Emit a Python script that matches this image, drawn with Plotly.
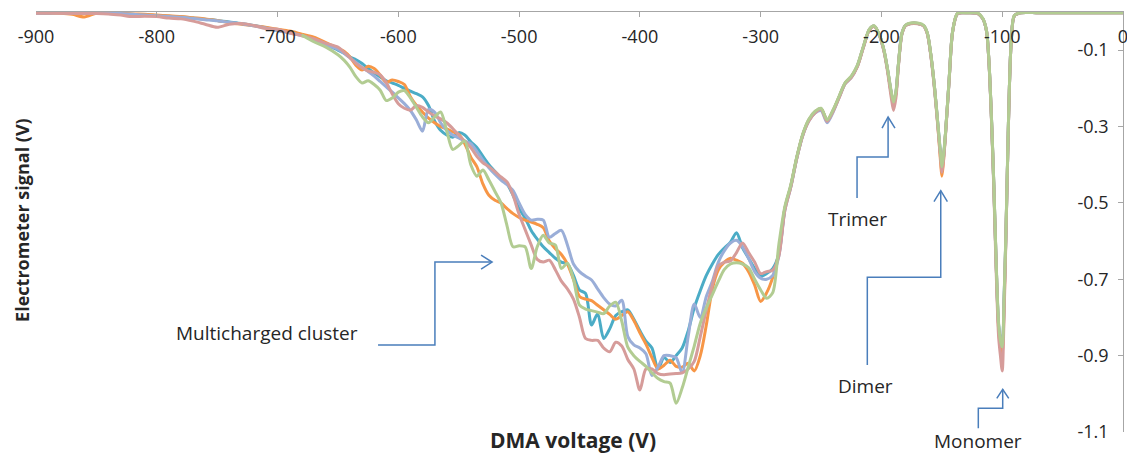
import plotly.graph_objects as go

# ---------------- data ----------------
# x grid: coarse part (-900..-660), fine part (-650..-300), peak part (-295..0)
x_coarse = [-900, -890, -880, -870, -860, -850, -840, -830, -820, -810, -800, -790, -780,
            -770, -760, -750, -740, -730, -720, -710, -700, -690, -680, -670, -660]
x_fine = [-650, -645, -640, -635, -630, -625, -620, -615, -610, -605, -600, -595, -590, -585,
          -580, -575, -570, -565, -560, -555, -550, -545, -540, -535, -530, -525, -520, -515,
          -510, -505, -500, -495, -490, -485, -480, -475, -470, -465, -460, -455, -450, -445,
          -440, -435, -430, -425, -420, -415, -410, -405, -400, -395, -390, -385, -380, -375,
          -370, -365, -360, -355, -350, -345, -340, -335, -330, -325, -320, -315, -310, -305, -300]
x_peak = [-295, -290, -285, -280, -275, -270, -265, -260, -255, -250, -245, -240, -235, -230,
          -225, -220, -215, -210, -206, -202, -198, -195, -192, -190, -188, -186, -183, -180,
          -176, -170, -165, -162, -159, -156, -153, -151, -150, -149, -147, -144, -141, -137,
          -130, -120, -116, -113, -111, -109, -107, -105, -103, -101.5, -100, -98.5, -97, -95.5,
          -94, -92.5, -90, -85, -70, -50, -30, 0]
x_green_start = [-680, -670, -660]

# series 1 (teal)
teal_coarse = [-0.003, -0.003, -0.002, -0.003, -0.003, -0.003, -0.004, -0.005, -0.006, -0.008,
               -0.009, -0.011, -0.013, -0.016, -0.019, -0.022, -0.026, -0.030, -0.035, -0.041,
               -0.048, -0.053, -0.060, -0.070, -0.085]
teal_fine = [-0.100, -0.108, -0.118, -0.125, -0.135, -0.148, -0.160, -0.170, -0.180, -0.186,
             -0.192, -0.200, -0.207, -0.214, -0.222, -0.245, -0.285, -0.310, -0.322, -0.328,
             -0.316, -0.322, -0.340, -0.355, -0.378, -0.400, -0.418, -0.435, -0.450, -0.480,
             -0.515, -0.540, -0.572, -0.595, -0.615, -0.630, -0.645, -0.655, -0.660, -0.690,
             -0.728, -0.737, -0.820, -0.790, -0.855, -0.830, -0.795, -0.785, -0.780, -0.805,
             -0.835, -0.862, -0.880, -0.935, -0.905, -0.918, -0.900, -0.880, -0.835, -0.775,
             -0.730, -0.690, -0.660, -0.635, -0.618, -0.603, -0.578, -0.618, -0.645, -0.672, -0.692]
teal_peak = [-0.685, -0.672, -0.635, -0.515, -0.455, -0.380, -0.320, -0.282, -0.262, -0.253,
             -0.284, -0.258, -0.222, -0.186, -0.170, -0.142, -0.092, -0.046, -0.037, -0.058,
             -0.100, -0.150, -0.210, -0.240, -0.212, -0.140, -0.056, -0.035, -0.030, -0.030,
             -0.036, -0.056, -0.115, -0.200, -0.305, -0.375, -0.400, -0.390, -0.320, -0.180,
             -0.050, -0.004, -0.002, -0.004, -0.018, -0.050, -0.130, -0.270, -0.450, -0.660,
             -0.820, -0.855, -0.862, -0.755, -0.590, -0.380, -0.190, -0.075, -0.010, -0.002,
             -0.002, -0.002, -0.002, -0.002]

# series 2 (orange)
orange_coarse = [-0.002, -0.002, -0.003, -0.006, -0.013, -0.003, -0.002, -0.003, -0.005, -0.006,
                 -0.008, -0.010, -0.012, -0.015, -0.018, -0.022, -0.028, -0.032, -0.036, -0.040,
                 -0.045, -0.050, -0.058, -0.066, -0.080]
orange_fine = [-0.095, -0.103, -0.118, -0.140, -0.152, -0.142, -0.148, -0.165, -0.184, -0.178,
               -0.182, -0.190, -0.222, -0.245, -0.262, -0.278, -0.290, -0.300, -0.306, -0.314,
               -0.320, -0.345, -0.380, -0.405, -0.450, -0.480, -0.493, -0.500, -0.515, -0.528,
               -0.538, -0.545, -0.550, -0.556, -0.565, -0.600, -0.620, -0.635, -0.660, -0.700,
               -0.745, -0.752, -0.756, -0.768, -0.780, -0.792, -0.805, -0.795, -0.785, -0.808,
               -0.840, -0.870, -0.905, -0.935, -0.925, -0.912, -0.928, -0.930, -0.920, -0.940,
               -0.900, -0.820, -0.725, -0.675, -0.655, -0.645, -0.650, -0.658, -0.680, -0.715, -0.758]
orange_peak = [-0.735, -0.695, -0.632, -0.515, -0.455, -0.380, -0.320, -0.282, -0.262, -0.253,
               -0.284, -0.258, -0.222, -0.186, -0.170, -0.142, -0.092, -0.046, -0.037, -0.058,
               -0.100, -0.150, -0.212, -0.245, -0.215, -0.140, -0.056, -0.035, -0.030, -0.030,
               -0.036, -0.056, -0.115, -0.200, -0.310, -0.395, -0.430, -0.405, -0.320, -0.180,
               -0.050, -0.004, -0.002, -0.004, -0.018, -0.050, -0.130, -0.270, -0.450, -0.660,
               -0.830, -0.875, -0.894, -0.775, -0.590, -0.380, -0.190, -0.075, -0.010, -0.002,
               -0.002, -0.002, -0.002, -0.002]

# series 3 (lavender)
lav_coarse = [-0.003, -0.002, -0.002, -0.003, -0.002, -0.003, -0.004, -0.004, -0.006, -0.008,
              -0.010, -0.012, -0.014, -0.017, -0.020, -0.023, -0.027, -0.031, -0.036, -0.042,
              -0.049, -0.055, -0.062, -0.072, -0.086]
lav_fine = [-0.098, -0.108, -0.120, -0.132, -0.145, -0.156, -0.168, -0.182, -0.196, -0.210,
            -0.225, -0.240, -0.258, -0.283, -0.312, -0.255, -0.262, -0.290, -0.310, -0.322,
            -0.330, -0.338, -0.345, -0.365, -0.388, -0.408, -0.425, -0.440, -0.452, -0.468,
            -0.500, -0.530, -0.545, -0.543, -0.545, -0.590, -0.580, -0.572, -0.610, -0.660,
            -0.680, -0.692, -0.702, -0.725, -0.748, -0.765, -0.770, -0.755, -0.850, -0.872,
            -0.880, -0.895, -0.952, -0.930, -0.900, -0.900, -0.905, -0.945, -0.850, -0.765,
            -0.800, -0.745, -0.705, -0.655, -0.625, -0.605, -0.598, -0.615, -0.645, -0.680, -0.697]
lav_peak = [-0.700, -0.690, -0.640, -0.520, -0.458, -0.382, -0.322, -0.285, -0.265, -0.258,
            -0.290, -0.262, -0.224, -0.188, -0.172, -0.142, -0.092, -0.046, -0.037, -0.058,
            -0.100, -0.150, -0.210, -0.240, -0.212, -0.140, -0.056, -0.035, -0.030, -0.030,
            -0.036, -0.056, -0.115, -0.200, -0.305, -0.375, -0.400, -0.390, -0.320, -0.180,
            -0.050, -0.004, -0.002, -0.004, -0.018, -0.050, -0.130, -0.270, -0.450, -0.660,
            -0.820, -0.855, -0.862, -0.755, -0.590, -0.380, -0.190, -0.075, -0.010, -0.002,
            -0.002, -0.002, -0.002, -0.002]

# series 4 (rose)
rose_coarse = [-0.003, -0.003, -0.003, -0.004, -0.004, -0.004, -0.005, -0.008, -0.012, -0.011,
               -0.012, -0.016, -0.018, -0.024, -0.032, -0.040, -0.032, -0.030, -0.035, -0.043,
               -0.045, -0.055, -0.062, -0.070, -0.082]
rose_fine = [-0.092, -0.105, -0.120, -0.135, -0.146, -0.155, -0.158, -0.165, -0.185, -0.215,
             -0.240, -0.252, -0.257, -0.245, -0.250, -0.262, -0.272, -0.280, -0.290, -0.305,
             -0.322, -0.338, -0.355, -0.378, -0.395, -0.405, -0.418, -0.432, -0.445, -0.480,
             -0.530, -0.570, -0.610, -0.648, -0.655, -0.650, -0.675, -0.705, -0.725, -0.752,
             -0.800, -0.855, -0.860, -0.860, -0.880, -0.890, -0.865, -0.875, -0.910, -0.935,
             -0.990, -0.935, -0.935, -0.947, -0.950, -0.948, -0.947, -0.945, -0.935, -0.915,
             -0.850, -0.780, -0.715, -0.665, -0.655, -0.652, -0.630, -0.605, -0.630, -0.655, -0.685]
rose_peak = [-0.680, -0.676, -0.640, -0.520, -0.458, -0.382, -0.322, -0.285, -0.264, -0.255,
             -0.286, -0.260, -0.224, -0.188, -0.172, -0.144, -0.094, -0.047, -0.038, -0.059,
             -0.102, -0.155, -0.222, -0.258, -0.225, -0.145, -0.058, -0.036, -0.031, -0.031,
             -0.037, -0.058, -0.118, -0.205, -0.312, -0.385, -0.420, -0.400, -0.325, -0.182,
             -0.051, -0.004, -0.002, -0.004, -0.018, -0.050, -0.132, -0.275, -0.460, -0.680,
             -0.850, -0.900, -0.940, -0.800, -0.600, -0.385, -0.192, -0.076, -0.010, -0.002,
             -0.002, -0.002, -0.002, -0.002]

# series 5 (green) - starts at -680
green_start = [-0.060, -0.078, -0.092]
green_fine = [-0.112, -0.126, -0.145, -0.170, -0.186, -0.180, -0.190, -0.205, -0.232, -0.225,
              -0.210, -0.206, -0.225, -0.250, -0.275, -0.290, -0.275, -0.262, -0.310, -0.360,
              -0.350, -0.338, -0.400, -0.430, -0.414, -0.440, -0.470, -0.500, -0.560, -0.615,
              -0.612, -0.615, -0.672, -0.615, -0.585, -0.605, -0.610, -0.672, -0.658, -0.700,
              -0.768, -0.778, -0.782, -0.786, -0.790, -0.770, -0.760, -0.810, -0.878, -0.900,
              -0.915, -0.928, -0.945, -0.960, -0.968, -0.972, -1.025, -0.985, -0.930, -0.875,
              -0.815, -0.775, -0.740, -0.705, -0.674, -0.660, -0.657, -0.660, -0.670, -0.700, -0.728]
green_peak = [-0.750, -0.735, -0.610, -0.510, -0.452, -0.378, -0.318, -0.280, -0.260, -0.252,
              -0.282, -0.256, -0.220, -0.185, -0.168, -0.140, -0.090, -0.045, -0.036, -0.057,
              -0.098, -0.148, -0.206, -0.236, -0.208, -0.138, -0.055, -0.034, -0.029, -0.029,
              -0.035, -0.055, -0.113, -0.198, -0.302, -0.372, -0.405, -0.385, -0.318, -0.178,
              -0.049, -0.003, -0.002, -0.003, -0.017, -0.049, -0.128, -0.268, -0.445, -0.655,
              -0.815, -0.860, -0.877, -0.750, -0.585, -0.375, -0.188, -0.074, -0.009, -0.002,
              -0.002, -0.002, -0.002, -0.002]

series = [
    ("Run 1", x_coarse + x_fine + x_peak, teal_coarse + teal_fine + teal_peak, "#4BACC6"),
    ("Run 2", x_coarse + x_fine + x_peak, orange_coarse + orange_fine + orange_peak, "#F79646"),
    ("Run 3", x_coarse + x_fine + x_peak, lav_coarse + lav_fine + lav_peak, "#9AAED8"),
    ("Run 4", x_coarse + x_fine + x_peak, rose_coarse + rose_fine + rose_peak, "#D69C9A"),
    ("Run 5", x_green_start + x_fine + x_peak, green_start + green_fine + green_peak, "#B2CC92"),
]

x_ticks = [-900, -800, -700, -600, -500, -400, -300, -200, -100, 0]
y_ticks = [-0.1, -0.3, -0.5, -0.7, -0.9, -1.1]

FONT = "Open Sans"
TXT = "#262626"
ARROW = "#4A7EBB"

fig = go.Figure()
for name, xs, ys, col in series:
    fig.add_trace(go.Scatter(x=xs, y=ys, mode="lines", name=name,
                             line=dict(color=col, width=3, shape="spline", smoothing=0.8)))

# annotation arrows (elbow connectors with open heads), in data coordinates
arrow_paths = [
    "M-616.8,-0.872 L-569.7,-0.872 L-569.7,-0.655 L-522.4,-0.655",
    "M-531.5,-0.6366 L-522.4,-0.655 L-531.5,-0.6733",
    "M-220.2,-0.487 L-220.2,-0.380 L-194.5,-0.380 L-194.5,-0.275",
    "M-199.5,-0.304 L-194.5,-0.275 L-188.8,-0.304",
    "M-211.7,-0.9246 L-211.7,-0.6949 L-150.9,-0.6949 L-150.9,-0.468",
    "M-156.5,-0.4969 L-150.9,-0.468 L-145.4,-0.4969",
    "M-119.8,-1.0904 L-119.8,-1.038 L-99.6,-1.038 L-99.6,-0.988",
    "M-104.5,-1.0118 L-99.6,-0.988 L-94.6,-1.0118",
]
for p in arrow_paths:
    fig.add_shape(type="path", path=p, xref="x", yref="y",
                  line=dict(color=ARROW, width=1.5))

label_font = dict(family=FONT, size=19, color=TXT)
fig.add_annotation(x=-708.7, y=-0.841, xref="x", yref="y", text="Multicharged cluster",
                   showarrow=False, font=label_font)
fig.add_annotation(x=-220.2, y=-0.542, xref="x", yref="y", text="Trimer",
                   showarrow=False, font=label_font)
fig.add_annotation(x=-212.8, y=-0.980, xref="x", yref="y", text="Dimer",
                   showarrow=False, font=label_font)
fig.add_annotation(x=0.8666, y=-0.0571, xref="paper", yref="paper", text="Monomer",
                   showarrow=False, font=label_font, xanchor="center", yanchor="bottom")

fig.add_annotation(x=0.4936, y=-0.0571, xref="paper", yref="paper", text="<b>DMA voltage (V)</b>",
                   showarrow=False, font=dict(family=FONT, size=21, color=TXT),
                   xanchor="center", yanchor="bottom")
fig.add_annotation(x=-0.0129, y=0.505, xref="paper", yref="paper",
                   text="<b>Electrometer signal (V)</b>", textangle=-90,
                   showarrow=False, font=dict(family=FONT, size=18, color=TXT),
                   xanchor="center", yanchor="middle")

tick_font = dict(family=FONT, size=18, color=TXT)
fig.update_layout(
    width=1127, height=456,
    margin=dict(l=36, r=4, t=12, b=24, autoexpand=False),
    paper_bgcolor="white", plot_bgcolor="white",
    showlegend=False,
    font=dict(family=FONT, size=16, color=TXT),
    xaxis=dict(range=[-900, 0], side="top", tickvals=x_ticks, ticktext=[str(v) for v in x_ticks],
               showgrid=False, zeroline=False, showline=True, linecolor="#A6A6A6", linewidth=1,
               ticks="inside", ticklen=5, tickcolor="#A6A6A6", ticklabelposition="inside",
               ticklabeloverflow="allow", ticklabelstandoff=14, tickfont=tick_font,
               automargin=False),
    yaxis=dict(range=[-1.1, 0], side="right", tickvals=y_ticks, ticktext=[f"{v:.1f}" for v in y_ticks],
               showgrid=False, zeroline=False, showline=True, linecolor="#A6A6A6", linewidth=1,
               ticks="inside", ticklen=5, tickcolor="#A6A6A6", ticklabelposition="inside",
               ticklabeloverflow="allow", ticklabelstandoff=10, tickfont=tick_font,
               automargin=False),
)

fig.write_html("out.html")
